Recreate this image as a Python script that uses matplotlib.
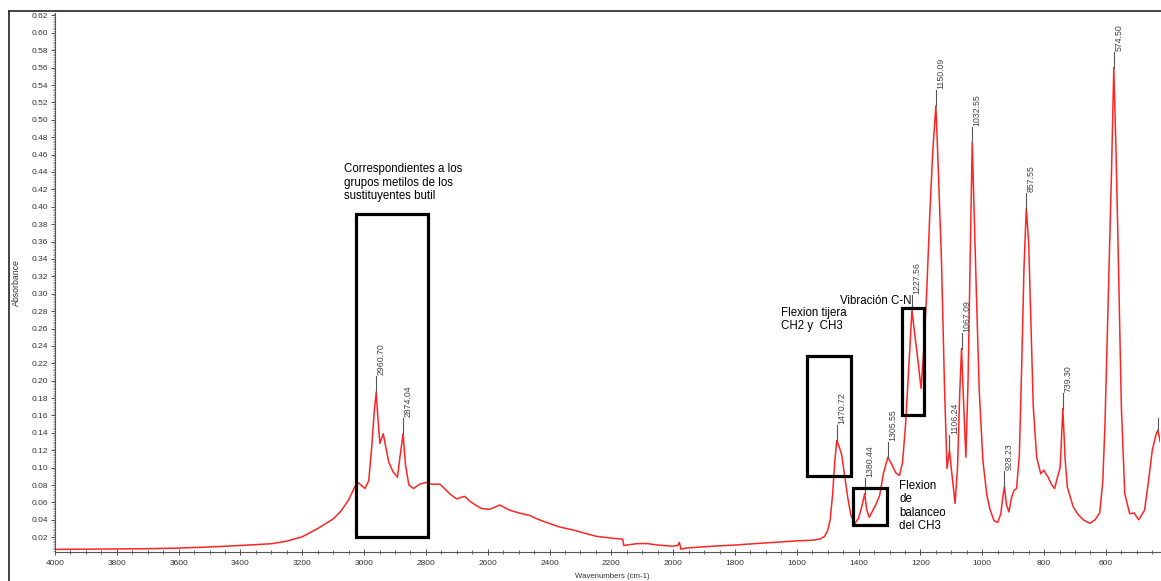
"""
FTIR absorbance spectrum with peak labels and band annotations.
"""
import numpy as np
import matplotlib.pyplot as plt
from matplotlib.patches import Rectangle
from matplotlib.lines import Line2D
from matplotlib.ticker import MultipleLocator, FormatStrFormatter

plt.rcParams["font.family"] = ["Liberation Sans", "DejaVu Sans"]

# spectrum (cm-1, absorbance)
WAVENUMBER = [
    4000, 3900, 3800, 3700, 3600, 3500, 3400, 3300, 3250, 3200, 3150, 3100,
    3075, 3050, 3030, 3020, 3010, 2997, 2985, 2975, 2967, 2960.7, 2955, 2949,
    2938, 2930, 2920, 2906, 2892, 2884, 2874, 2866, 2855, 2840, 2820, 2800,
    2780, 2755, 2740, 2720, 2700, 2685, 2674, 2660, 2640, 2620, 2595, 2575,
    2561, 2545, 2528, 2500, 2464, 2440, 2410, 2370, 2320, 2280, 2248, 2200,
    2163, 2160, 2120, 2086, 2050, 2001, 1985, 1980, 1975, 1960, 1900, 1871,
    1800, 1762, 1700, 1655, 1600, 1547, 1525, 1510, 1500, 1492, 1484, 1477,
    1470.72, 1462, 1455, 1445, 1435, 1425, 1412, 1400, 1390, 1380.44, 1374,
    1366, 1355, 1345, 1332, 1320, 1305.55, 1293, 1280, 1268, 1258, 1248, 1238,
    1227.56, 1218, 1207, 1198, 1190, 1180, 1170, 1160, 1150.09, 1142, 1132,
    1122, 1114, 1106.24, 1099, 1088, 1080, 1073, 1067.09, 1061, 1053, 1046,
    1040, 1032.55, 1026, 1019, 1010, 998, 985, 975, 962, 950, 940, 933,
    928.23, 922, 914, 905, 897, 889, 880, 873, 865, 857.55, 850, 844, 835,
    824, 811, 801, 787, 775, 766, 756, 748, 739.30, 732, 725, 706, 690, 673,
    652, 635, 620, 610, 603, 593, 582, 574.50, 567, 561, 550, 539, 523, 509,
    494, 475, 462, 450, 438, 432, 427, 425,
]
ABSORBANCE = [
    0.0060, 0.0062, 0.0065, 0.0068, 0.0075, 0.0088, 0.0105, 0.0125, 0.0155,
    0.0205, 0.030, 0.041, 0.050, 0.063, 0.078, 0.083, 0.080, 0.076, 0.085,
    0.125, 0.165, 0.187, 0.155, 0.128, 0.139, 0.124, 0.106, 0.095, 0.089,
    0.112, 0.139, 0.103, 0.080, 0.076, 0.081, 0.083, 0.081, 0.081, 0.076,
    0.069, 0.064, 0.066, 0.067, 0.062, 0.057, 0.053, 0.052, 0.055, 0.057,
    0.054, 0.051, 0.048, 0.045, 0.041, 0.037, 0.032, 0.028, 0.024, 0.021,
    0.019, 0.0177, 0.0105, 0.0125, 0.0128, 0.0110, 0.0097, 0.0105, 0.0140,
    0.0062, 0.0075, 0.0090, 0.0097, 0.0110, 0.0120, 0.0135, 0.0145, 0.0158,
    0.0166, 0.018, 0.021, 0.028, 0.040, 0.070, 0.108, 0.131, 0.123, 0.115,
    0.090, 0.065, 0.045, 0.036, 0.042, 0.055, 0.070, 0.052, 0.043, 0.050,
    0.057, 0.068, 0.093, 0.112, 0.104, 0.094, 0.091, 0.106, 0.150, 0.215,
    0.281, 0.252, 0.220, 0.191, 0.232, 0.300, 0.390, 0.465, 0.516, 0.440,
    0.338, 0.190, 0.099, 0.120, 0.095, 0.059, 0.100, 0.185, 0.237, 0.180,
    0.112, 0.200, 0.320, 0.474, 0.390, 0.300, 0.190, 0.108, 0.068, 0.052,
    0.039, 0.037, 0.047, 0.068, 0.078, 0.058, 0.049, 0.066, 0.074, 0.076,
    0.115, 0.209, 0.330, 0.398, 0.360, 0.285, 0.170, 0.112, 0.093, 0.097,
    0.089, 0.080, 0.076, 0.090, 0.100, 0.168, 0.110, 0.078, 0.055, 0.046,
    0.040, 0.036, 0.040, 0.048, 0.085, 0.150, 0.285, 0.438, 0.560, 0.460,
    0.361, 0.170, 0.070, 0.047, 0.048, 0.040, 0.051, 0.085, 0.120, 0.138,
    0.143, 0.135, 0.130,
]

# labelled peaks
PEAK_POS = [2960.70, 2874.04, 1470.72, 1380.44, 1305.55, 1227.56, 1150.09,
            1106.24, 1067.09, 1032.55, 928.23, 857.55, 739.30, 574.50]
PEAK_TEXT = ["2960.70", "2874.04", "1470.72", "1380.44", "1305.55", "1227.56",
             "1150.09", "1106.24", "1067.09", "1032.55", "928.23", "857.55",
             "739.30", "574.50"]
EDGE_PEAK = 432  # marker only, label cut off at the right edge

# annotation boxes: (wn left, wn right, abs bottom, abs top)
BOXES = [
    (3026, 2793, 0.020, 0.392),
    (1568, 1425, 0.090, 0.228),
    (1418, 1308, 0.034, 0.077),
    (1261, 1189, 0.160, 0.284),
]
NOTES = [
    (3065, 0.450, "Correspondientes a los\ngrupos metilos de los\nsustituyentes butil", "top", 8.3),
    (1652, 0.285, "Flexion tijera\nCH2 y  CH3", "top", 8.3),
    (1269, 0.086, "Flexion\nde\nbalanceo\ndel CH3", "top", 8.3),
    (1461, 0.292, "Vibración C-N", "center", 8.3),
]

W, H = 1161, 581
fig = plt.figure(figsize=(W / 100, H / 100), dpi=100)
ax = fig.add_axes([55 / W, 29 / H, 1105 / W, 539.5 / H])

ax.plot(WAVENUMBER, ABSORBANCE, color="#ff2424", lw=1.1)
ax.set_xlim(4000, 425)
ax.set_ylim(0.003, 0.6234)

ax.spines["top"].set_visible(False)
ax.spines["right"].set_visible(False)
for s in ("left", "bottom"):
    ax.spines[s].set_linewidth(0.8)
    ax.spines[s].set_color("#555555")

ax.xaxis.set_major_locator(MultipleLocator(200))
ax.xaxis.set_minor_locator(MultipleLocator(50))
ax.yaxis.set_major_locator(MultipleLocator(0.02))
ax.yaxis.set_minor_locator(MultipleLocator(0.002))
ax.yaxis.set_major_formatter(FormatStrFormatter("%.2f"))
ax.tick_params(axis="x", which="major", direction="inout", length=5, width=0.7,
               labelsize=6, pad=3, colors="#555555", labelcolor="#333333")
ax.tick_params(axis="x", which="minor", direction="inout", length=3, width=0.6,
               colors="#555555")
ax.tick_params(axis="y", which="major", direction="out", length=3, width=0.7,
               labelsize=6, pad=2, colors="#555555", labelcolor="#333333")
ax.tick_params(axis="y", which="minor", direction="out", length=1.5, width=0.5,
               colors="#777777")
# the 0.00 label is not shown in the reference
ax.set_yticks(np.arange(0.02, 0.621, 0.02))

fig.text(612 / W, 1 - 577 / H, "Wavenumbers (cm-1)", fontsize=5.6,
         color="#333333", ha="center", va="center")
fig.text(16 / W, 1 - 283 / H, "Absorbance", fontsize=6.3, color="#333333",
         rotation=90, ha="center", va="center")

# peak markers and rotated labels
wn_up = WAVENUMBER[::-1]
ab_up = ABSORBANCE[::-1]
lead = 0.018
for pos, txt in zip(PEAK_POS, PEAK_TEXT):
    y = np.interp(pos, wn_up, ab_up)
    ax.plot([pos, pos], [y, y + lead], color="#555555", lw=0.8, clip_on=False)
    ax.annotate(txt, xy=(pos, y + lead), xytext=(5, 1), textcoords="offset pixels",
                rotation=90, ha="center", va="bottom", fontsize=6.3,
                color="#444444", annotation_clip=False)
y_edge = np.interp(EDGE_PEAK, wn_up, ab_up)
ax.plot([EDGE_PEAK, EDGE_PEAK], [y_edge, y_edge + 0.014], color="#555555",
        lw=0.8, clip_on=False)

for x0, x1, y0, y1 in BOXES:
    ax.add_patch(Rectangle((x0, y0), x1 - x0, y1 - y0, fill=False,
                           ec="black", lw=2.3, clip_on=False, zorder=4))

for x, y, txt, va, fs in NOTES:
    ax.text(x, y, txt, fontsize=fs, ha="left", va=va, color="black",
            linespacing=1.15)

# screenshot frame
fig.add_artist(Line2D([9 / W, 9 / W], [0, 1 - 11 / H], color="#222222", lw=1.2))
fig.add_artist(Line2D([9 / W, 1], [1 - 11 / H, 1 - 11 / H], color="#222222", lw=1.2))

fig.savefig("out.png", dpi=100)
